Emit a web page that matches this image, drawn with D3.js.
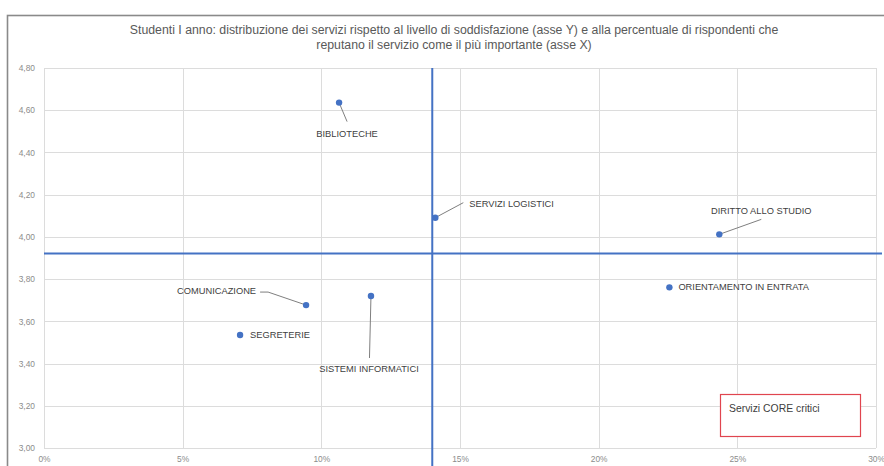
<!DOCTYPE html>
<html>
<head>
<meta charset="utf-8">
<script src="https://cdn.jsdelivr.net/npm/d3@7"></script>
<style>
  html, body { margin: 0; padding: 0; background: #fff; }
  svg { display: block; font-family: "Liberation Sans", "Noto Sans", sans-serif; }
</style>
</head>
<body>
<svg id="chart" width="884" height="466"></svg>
<script>
// Services and their scores
const services = ["BIBLIOTECHE", "SERVIZI LOGISTICI", "DIRITTO ALLO STUDIO", "ORIENTAMENTO IN ENTRATA",
                  "COMUNICAZIONE", "SEGRETERIE", "SISTEMI INFORMATICI"];
// share of respondents naming the service as the most important (x)
const importance = [0.1064, 0.1411, 0.2435, 0.2255, 0.0945, 0.0707, 0.1179];
// average satisfaction (y)
const satisfaction = [4.636, 4.091, 4.012, 3.761, 3.677, 3.535, 3.720];
// quadrant dividers
const importanceDivider = 0.140;
const satisfactionDivider = 3.921;
// axis ticks
const xTicks = [0, 0.05, 0.10, 0.15, 0.20, 0.25, 0.30];
const yTicks = [3.0, 3.2, 3.4, 3.6, 3.8, 4.0, 4.2, 4.4, 4.6, 4.8];

const titleLines = [
  "Studenti I anno: distribuzione dei servizi rispetto al livello di soddisfazione (asse Y) e alla percentuale di rispondenti che",
  "reputano il servizio come il più importante (asse X)"
];
const boxLabel = "Servizi CORE critici";

// label placement, relative to each point: [dx, dy, anchor, leader path points]
const labelLayout = [
  [8, 34, "middle", [[0, 0], [8, 19]]],
  [34, -11, "start", [[0, 0], [28, -15]]],
  [42, -20, "middle", [[0, 0], [42, -15]]],
  [9, 3, "start", null],
  [-50, -11, "end", [[0, 0], [-38, -13], [-46, -13]]],
  [10, 3, "start", null],
  [-2, 76, "middle", [[0, 0], [-1.5, 62]]]
];

const itLocale = d3.formatLocale({decimal: ",", thousands: ".", grouping: [3], currency: ["€", ""]});
const fmtY = itLocale.format(".2f");
const fmtX = itLocale.format(".0%");

const svg = d3.select("#chart");
const W = 884, H = 466;
const m = {left: 44, right: 884 - 876, top: 68, bottom: 466 - 448};

const x = d3.scaleLinear().domain([0, 0.30]).range([m.left, W - m.right]);
const y = d3.scaleLinear().domain([3.0, 4.8]).range([H - m.bottom, m.top]);

// outer chart frame
svg.append("rect")
  .attr("x", 7.5).attr("y", 15.5).attr("width", W + 10).attr("height", H + 10)
  .attr("fill", "#fff").attr("stroke", "#8a8a8a").attr("stroke-width", 1.6);

// title
const title = svg.append("text")
  .attr("x", 454).attr("y", 34)
  .attr("text-anchor", "middle")
  .attr("fill", "#595959")
  .style("font-size", "12.3px");
title.selectAll("tspan").data(titleLines).join("tspan")
  .attr("x", 454).attr("dy", (d, i) => i ? 15 : 0)
  .text(d => d);

// gridlines
svg.append("g").selectAll("line").data(yTicks).join("line")
  .attr("x1", x(0)).attr("x2", x(0.30))
  .attr("y1", d => Math.round(y(d)) + 0.5).attr("y2", d => Math.round(y(d)) + 0.5)
  .attr("stroke", "#dcdcdc").attr("stroke-width", 1);
svg.append("g").selectAll("line").data(xTicks).join("line")
  .attr("x1", d => Math.round(x(d)) + 0.5).attr("x2", d => Math.round(x(d)) + 0.5)
  .attr("y1", y(4.8)).attr("y2", y(3.0))
  .attr("stroke", "#dcdcdc").attr("stroke-width", 1);

// axes (labels only)
const yAxis = svg.append("g")
  .attr("transform", `translate(${m.left - 9},0)`)
  .call(d3.axisLeft(y).tickValues(yTicks).tickFormat(fmtY).tickSize(0).tickPadding(0));
const xAxis = svg.append("g")
  .attr("transform", `translate(0,${H - m.bottom + 8})`)
  .call(d3.axisBottom(x).tickValues(xTicks).tickFormat(fmtX).tickSize(0).tickPadding(0));
[yAxis, xAxis].forEach(g => {
  g.select(".domain").remove();
  g.selectAll("text").attr("fill", "#8c8c8c").style("font-size", "8.4px")
    .style("font-family", "Liberation Sans, sans-serif");
});
yAxis.selectAll("text").attr("dy", "0.32em");
xAxis.selectAll("text").attr("dy", "0.71em");

// quadrant dividers
svg.append("line")
  .attr("x1", x(0)).attr("x2", x(0.30) + 6)
  .attr("y1", y(satisfactionDivider)).attr("y2", y(satisfactionDivider))
  .attr("stroke", "#4472c4").attr("stroke-width", 2);
svg.append("line")
  .attr("x1", x(importanceDivider)).attr("x2", x(importanceDivider))
  .attr("y1", y(4.8)).attr("y2", H)
  .attr("stroke", "#4472c4").attr("stroke-width", 2);

// critical core services box
svg.append("rect")
  .attr("x", 720.5).attr("y", 394.5).attr("width", 140).attr("height", 42)
  .attr("fill", "#fff").attr("stroke", "#e0454f").attr("stroke-width", 1.2);
svg.append("text")
  .attr("x", 729).attr("y", 412)
  .attr("fill", "#404040").style("font-size", "10.4px")
  .text(boxLabel);

// points, leader lines and labels
const data = services.map((s, i) => ({
  name: s, x: importance[i], y: satisfaction[i], layout: labelLayout[i]
}));

const leader = d3.line();
svg.append("g").selectAll("path").data(data.filter(d => d.layout[3])).join("path")
  .attr("d", d => leader(d.layout[3].map(([dx, dy]) => [x(d.x) + dx, y(d.y) + dy])))
  .attr("fill", "none").attr("stroke", "#7f7f7f").attr("stroke-width", 1);

svg.append("g").selectAll("circle").data(data).join("circle")
  .attr("cx", d => x(d.x)).attr("cy", d => y(d.y)).attr("r", 3.2)
  .attr("fill", "#4472c4");

svg.append("g").selectAll("text").data(data).join("text")
  .attr("x", d => x(d.x) + d.layout[0])
  .attr("y", d => y(d.y) + d.layout[1])
  .attr("text-anchor", d => d.layout[2])
  .attr("fill", "#404040")
  .style("font-size", "9.3px")
  .text(d => d.name);
</script>
</body>
</html>
